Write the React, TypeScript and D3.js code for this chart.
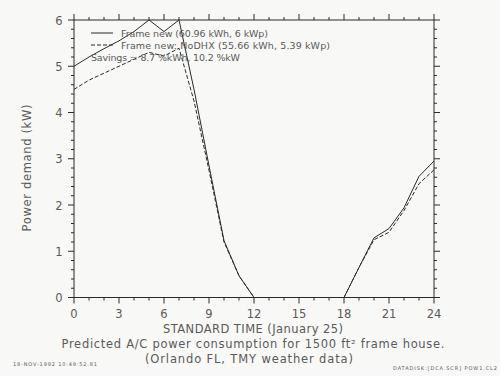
import React from "react";
import * as d3 from "d3";

const hours = d3.range(0, 25);
const frameNew = [5.0, 5.2, 5.38, 5.55, 5.75, 6.0, 5.75, 6.0, 4.5, 2.85, 1.23, 0.47, 0, 0, 0, 0, 0, 0, 0, 0.65, 1.29, 1.49, 1.94, 2.62, 2.95];
const frameNoDHX = [4.5, 4.7, 4.85, 5.0, 5.15, 5.3, 5.22, 5.39, 4.25, 2.75, 1.2, 0.47, 0, 0, 0, 0, 0, 0, 0, 0.65, 1.25, 1.41, 1.88, 2.46, 2.76];
const xTickLabels = [0, 3, 6, 9, 12, 15, 18, 21, 24];
const yTickLabels = [0, 1, 2, 3, 4, 5, 6];
const legendLabels = ["Frame new (60.96 kWh, 6 kWp)", "Frame new: NoDHX (55.66 kWh, 5.39 kWp)"];
const savingsText = "Savings = 8.7 %kWh, 10.2 %kW";

export default function App() {
  const W = 500, H = 376;
  const x = d3.scaleLinear().domain([0, 24]).range([74, 434]);
  const y = d3.scaleLinear().domain([0, 6]).range([297.5, 20]);
  const line = d3.line<number>().x((_, i) => x(hours[i])).y((d) => y(d));
  const ink = "#2a2a2a";
  const txt = "#5a5a5a";
  const font = "'DejaVu Sans', sans-serif";
  const xMinor = d3.range(0, 25, 1);
  const yMinor = d3.range(0, 30.5, 1).map((v) => v / 5);
  const x0 = x(0), x1 = x(24), y0 = y(0), y1 = y(6);
  return (
    <svg width={W} height={H} style={{ position: "absolute", left: 0, top: 0, background: "#f8f8f6" }} fontFamily={font}>
      <rect x={0} y={0} width={W} height={H} fill="#f8f8f6" />
      <rect x={x0} y={y1} width={x1 - x0} height={y0 - y1} fill="none" stroke={ink} strokeWidth={1} />
      {xMinor.map((h) => {
        const len = h % 3 === 0 ? 6 : 3;
        return (
          <g key={"xt" + h} stroke={ink} strokeWidth={1}>
            <line x1={x(h)} x2={x(h)} y1={y0} y2={y0 + len} />
            <line x1={x(h)} x2={x(h)} y1={y1} y2={y1 - len} />
          </g>
        );
      })}
      {yMinor.map((v, i) => {
        const len = i % 5 === 0 ? 6 : 3;
        return (
          <g key={"yt" + i} stroke={ink} strokeWidth={1}>
            <line x1={x0} x2={x0 - len} y1={y(v)} y2={y(v)} />
            <line x1={x1} x2={x1 + len} y1={y(v)} y2={y(v)} />
          </g>
        );
      })}
      {xTickLabels.map((h) => (
        <text key={"xl" + h} x={x(h)} y={318} textAnchor="middle" fontSize={11.5} fill={txt}>{h}</text>
      ))}
      {yTickLabels.map((v) => (
        <text key={"yl" + v} x={59} y={y(v) + 4.5} textAnchor="middle" fontSize={11.5} fill={txt}>{v}</text>
      ))}
      <text x={253} y={333} textAnchor="middle" fontSize={11.5} fill={txt} textLength={180} lengthAdjust="spacing">STANDARD TIME (January 25)</text>
      <text transform={`translate(31,168) rotate(-90)`} textAnchor="middle" fontSize={11.5} fill={txt} textLength={127} lengthAdjust="spacing">Power demand (kW)</text>
      <text x={253} y={348} textAnchor="middle" fontSize={11.5} fill={txt} textLength={383} lengthAdjust="spacing">Predicted A/C power consumption for 1500 ft² frame house.</text>
      <text x={249} y={363} textAnchor="middle" fontSize={11.5} fill={txt} textLength={208} lengthAdjust="spacing">(Orlando FL, TMY weather data)</text>
      <text x={13} y={366} fontSize={5} fill={txt} textLength={84} lengthAdjust="spacing">18-NOV-1992 10:49:52.81</text>
      <text x={393} y={370} fontSize={5} fill={txt} textLength={104} lengthAdjust="spacing">DATADISK:[DCA.SCR] POW1.CL2</text>
      <path d={line(frameNew) || ""} fill="none" stroke={ink} strokeWidth={1} />
      <path d={line(frameNoDHX) || ""} fill="none" stroke={ink} strokeWidth={1} strokeDasharray="4,2" />
      <line x1={91} x2={113} y1={33} y2={33} stroke={ink} strokeWidth={1} />
      <text x={121} y={36.5} fontSize={9.5} fill={txt} textLength={147} lengthAdjust="spacing">{legendLabels[0]}</text>
      <line x1={91} x2={113} y1={45} y2={45} stroke={ink} strokeWidth={1} strokeDasharray="4,2" />
      <text x={121} y={48.5} fontSize={9.5} fill={txt} textLength={209} lengthAdjust="spacing">{legendLabels[1]}</text>
      <text x={91} y={60.5} fontSize={9.5} fill={txt} textLength={149} lengthAdjust="spacing">{savingsText}</text>
    </svg>
  );
}
